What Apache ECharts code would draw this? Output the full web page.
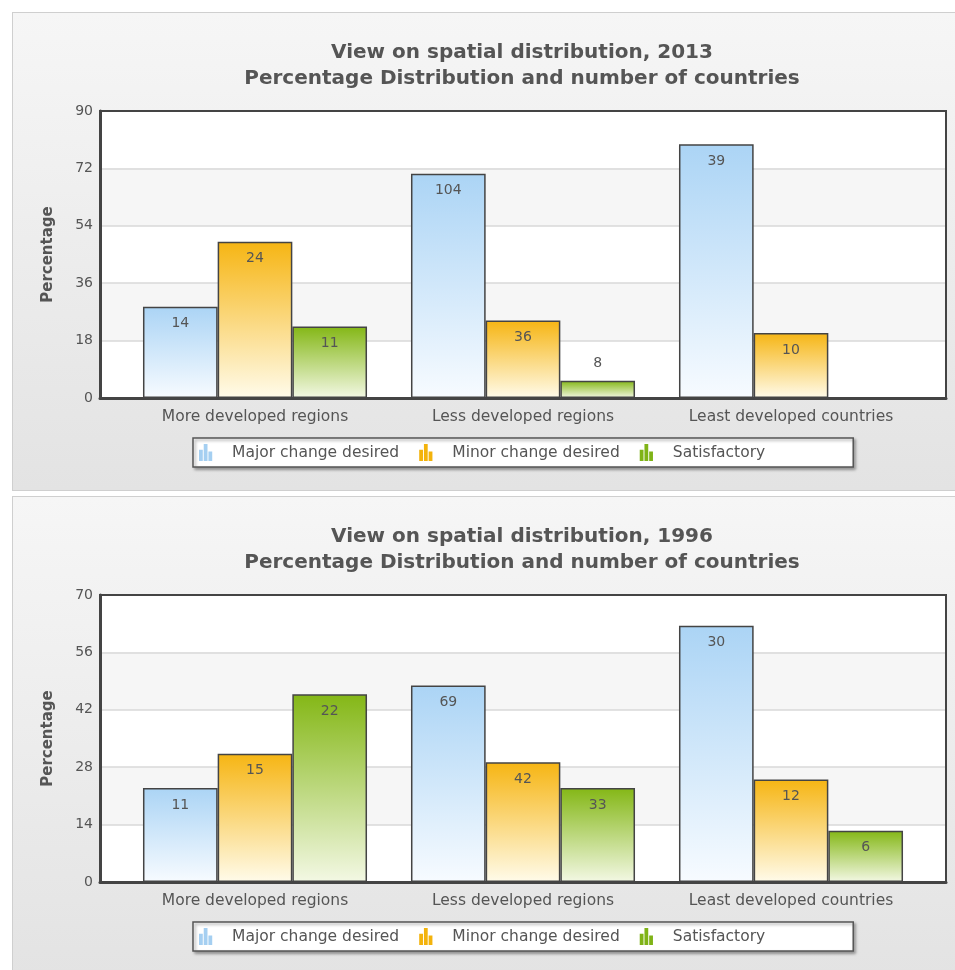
<!DOCTYPE html>
<html>
<head>
<meta charset="utf-8">
<script src="https://cdn.jsdelivr.net/npm/echarts@6/dist/echarts.min.js"></script>
<style>
  html, body { margin: 0; padding: 0; background: #ffffff; width: 955px; height: 970px; overflow: hidden; }
  .panel { position: absolute; left: 12px; width: 950px; box-sizing: border-box;
           border: 1px solid #cfcfcf; background: linear-gradient(#f6f6f6, #e3e3e3); }
  #p1 { top: 12px; height: 479px; }
  #p2 { top: 496px; height: 480px; }
</style>
</head>
<body>
<div id="p1" class="panel"></div>
<div id="p2" class="panel"></div>
<script>
// ---- data ----
const categories = ['More developed regions', 'Less developed regions', 'Least developed countries'];
const seriesNames = ['Major change desired', 'Minor change desired', 'Satisfactory'];

const title2013 = ['View on spatial distribution, 2013', 'Percentage Distribution and number of countries'];
const pct2013Major = [28.6, 70.3, 79.6];
const pct2013Minor = [49.0, 24.3, 20.4];
const pct2013Satisfactory = [22.4, 5.4, null];
const count2013Major = [14, 104, 39];
const count2013Minor = [24, 36, 10];
const count2013Satisfactory = [11, 8, null];
const yTicks2013 = [0, 18, 36, 54, 72, 90];

const title1996 = ['View on spatial distribution, 1996', 'Percentage Distribution and number of countries'];
const pct1996Major = [22.9, 47.9, 62.5];
const pct1996Minor = [31.3, 29.2, 25.0];
const pct1996Satisfactory = [45.8, 22.9, 12.5];
const count1996Major = [11, 69, 30];
const count1996Minor = [15, 42, 12];
const count1996Satisfactory = [22, 33, 6];
const yTicks1996 = [0, 14, 28, 42, 56, 70];

const yAxisName = 'Percentage';

// ---- styles ----
const FONT = 'DejaVu Sans';
const TEXT = '#555555';
const gradients = [
  ['#abd4f5', '#f7fbff'],
  ['#f6b513', '#fffbea'],
  ['#84b716', '#f3f8e4']
];
const legendColors = ['#a5cff1', '#f3b30c', '#7fb317'];
const iconPath = 'path://M0,6h4v12h-4z M5,0h4v18h-4z M10,8h4v10h-4z';

function grad(i) {
  return new echarts.graphic.LinearGradient(0, 0, 0, 1, [
    { offset: 0, color: gradients[i][0] },
    { offset: 1, color: gradients[i][1] }
  ]);
}

function buildOption(titleLines, values, counts, ticks) {
  const max = ticks[ticks.length - 1];
  const interval = ticks[1] - ticks[0];
  const series = values.map((vals, si) => ({
    name: seriesNames[si],
    type: 'bar',
    xAxisIndex: 1, yAxisIndex: 1,
    barGap: '0%',
    barCategoryGap: '16.4%',
    itemStyle: { color: grad(si), borderColor: '#444', borderWidth: 1.5 },
    data: vals.map((v, ci) => ({
      value: v,
      label: {
        show: counts[si][ci] != null,
        position: (v != null && v / max < 0.1) ? 'top' : 'insideTop',
        distance: 10,
        formatter: () => String(counts[si][ci]),
        color: TEXT, fontSize: 14, fontFamily: FONT
      }
    }))
  }));
  return {
    animation: false,
    textStyle: { fontFamily: FONT },
    graphic: titleLines.map((t, i) => ({
      type: 'text', x: 509, y: 40 + i * 26,
      style: { text: t, textAlign: 'center', textVerticalAlign: 'middle', align: 'center', verticalAlign: 'middle',
               fill: '#555', font: 'bold 20px "DejaVu Sans"' }
    })),
    grid: [
      { left: 87, top: 98, width: 846, height: 287, show: true, z: 5,
        borderColor: '#444', borderWidth: 2, backgroundColor: 'transparent' },
      { left: 108, top: 98, width: 804, height: 287 }
    ],
    legend: {
      left: 180, top: 425,
      data: seriesNames.map((n, i) => ({ name: n, icon: iconPath,
        itemStyle: { color: legendColors[i], borderWidth: 0 } })),
      itemWidth: 15, itemHeight: 17, itemGap: 20,
      padding: [6, 88, 6, 6],
      backgroundColor: '#fff', borderColor: '#555', borderWidth: 1.5,
      shadowColor: 'rgba(0,0,0,0.35)', shadowBlur: 3, shadowOffsetX: 2, shadowOffsetY: 2,
      textStyle: { color: TEXT, fontSize: 15.5, fontFamily: FONT, padding: [0, 0, 0, 14] }
    },
    xAxis: [
      { type: 'category', gridIndex: 0, data: categories,
        axisLine: { lineStyle: { color: '#444', width: 3 } },
        axisTick: { show: false }, axisLabel: { show: false }, splitLine: { show: false } },
      { type: 'category', gridIndex: 1, data: categories,
        axisLine: { show: false }, axisTick: { show: false },
        axisLabel: { color: TEXT, fontSize: 15.5, margin: 11, fontFamily: FONT } }
    ],
    yAxis: [
      { type: 'value', gridIndex: 0, min: 0, max: max, interval: interval,
        name: yAxisName, nameLocation: 'middle', nameGap: 44,
        nameTextStyle: { color: TEXT, fontSize: 15, fontWeight: 'bold', fontFamily: FONT },
        axisLine: { show: true, lineStyle: { color: '#444', width: 3 } },
        axisTick: { show: false },
        axisLabel: { color: TEXT, fontSize: 14, margin: 7, fontFamily: FONT },
        splitLine: { lineStyle: { color: '#d9d9d9', width: 1.5 } },
        splitArea: { show: true, areaStyle: { color: ['#ffffff', '#f6f6f6'] } } },
      { type: 'value', gridIndex: 1, min: 0, max: max, interval: interval,
        axisLine: { show: false }, axisTick: { show: false }, axisLabel: { show: false },
        splitLine: { show: false } }
    ],
    series: series
  };
}

const c1 = echarts.init(document.getElementById('p1'), null, { renderer: 'canvas' });
c1.setOption(buildOption(title2013,
  [pct2013Major, pct2013Minor, pct2013Satisfactory],
  [count2013Major, count2013Minor, count2013Satisfactory], yTicks2013));

const c2 = echarts.init(document.getElementById('p2'), null, { renderer: 'canvas' });
c2.setOption(buildOption(title1996,
  [pct1996Major, pct1996Minor, pct1996Satisfactory],
  [count1996Major, count1996Minor, count1996Satisfactory], yTicks1996));
</script>
</body>
</html>
